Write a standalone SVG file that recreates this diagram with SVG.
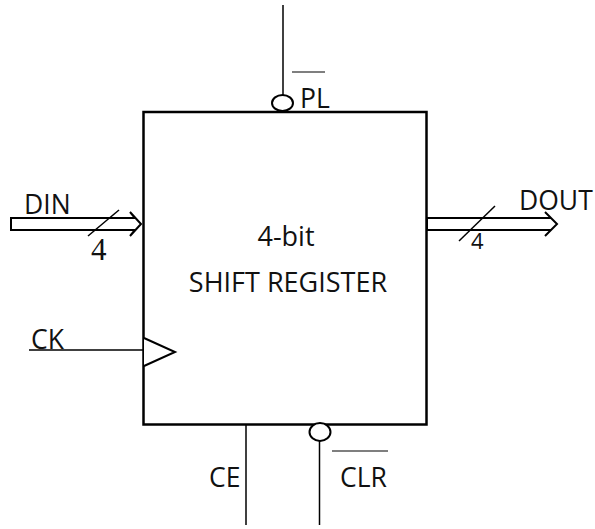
<svg xmlns="http://www.w3.org/2000/svg" width="595" height="529" viewBox="0 0 595 529">
<style>
text{font-family:"Open Sans","Noto Sans","Liberation Sans",sans-serif;font-size:26.500px;fill:#111}
.s{text-anchor:middle;font-size:27px}
.n{font-family:"Liberation Serif",serif;font-size:31px}
.d{font-size:22px}
.t{fill:none;stroke:#000;stroke-width:1.5}
.b{fill:#fff;stroke:#000;stroke-width:2.500}
.m{fill:#fff;stroke:#000;stroke-width:2}
.o{stroke:#555;stroke-width:1.500;fill:none}
</style>
<g id="connectors">
<line class="t" x1="283" y1="5" x2="283" y2="95"/>
<line class="t" x1="29" y1="350" x2="143" y2="350"/>
<line class="t" x1="246" y1="424" x2="246" y2="525"/>
<line class="t" x1="319.500" y1="441" x2="319.500" y2="525"/>
<path class="m" d="M11 218H135L130 212L141 224L130 236L135 230H11Z"/>
<path class="m" d="M427 218H551L545 212L557 224L545 236L551 230H427Z"/>
<line class="t" x1="88" y1="236" x2="119" y2="210"/>
<line class="t" x1="459" y1="241" x2="495" y2="206"/>
</g>
<g id="register">
<rect class="b" x="143.500" y="112" width="283" height="312.500"/>
<text class="s" x="286" y="246">4-bit</text>
<text class="s" x="288" y="292">SHIFT REGISTER</text>
</g>
<g id="din"><text x="24" y="214">DIN</text><text class="n" x="91" y="260">4</text></g>
<g id="dout"><text x="519" y="210">DOUT</text><text class="d" x="471" y="249">4</text></g>
<g id="pl">
<ellipse class="m" cx="282.500" cy="103" rx="10.500" ry="8"/>
<line class="o" x1="292" y1="72" x2="325" y2="72"/>
<text x="300" y="108">PL</text>
</g>
<g id="ck">
<text x="31" y="349">CK</text>
<path class="m" d="M144 338L175 352L144 366"/>
</g>
<g id="ce"><text x="209" y="487">CE</text></g>
<g id="clr">
<ellipse class="m" cx="320" cy="432" rx="10.500" ry="9"/>
<line class="o" x1="332" y1="451" x2="388" y2="451"/>
<text x="340" y="487">CLR</text>
</g>
</svg>
